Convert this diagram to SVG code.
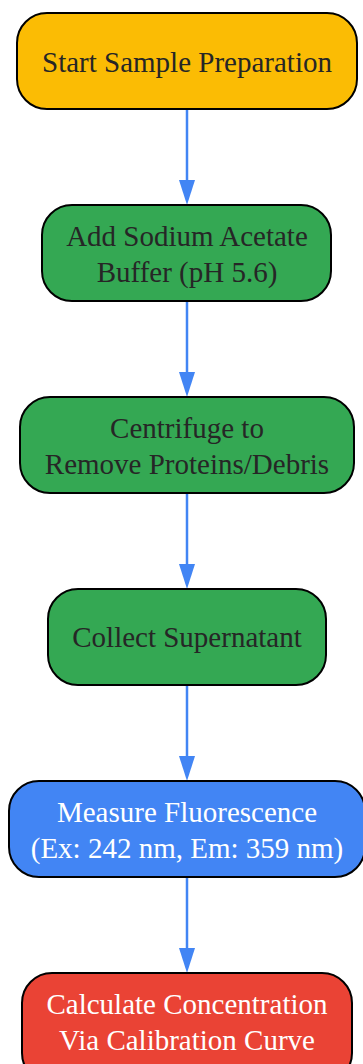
<svg xmlns="http://www.w3.org/2000/svg" width="363" height="1064" viewBox="0 0 363 1064">
<defs>
<style>
.n{stroke:#000;stroke-width:2}
.t{font-family:"Liberation Serif",serif;font-size:29px;text-anchor:middle;fill:#262626}
.w{fill:#fff}
.c{stroke:#4285F4;stroke-width:2.5;fill:none}
.a{fill:#4285F4}
</style>
</defs>
<g id="connectors">
<line class="c" x1="187" y1="109" x2="187" y2="182"/><path class="a" d="M179,180 L195,180 L187,205 Z"/>
<line class="c" x1="187" y1="301" x2="187" y2="374"/><path class="a" d="M179,372 L195,372 L187,397 Z"/>
<line class="c" x1="187" y1="493" x2="187" y2="566"/><path class="a" d="M179,564 L195,564 L187,589 Z"/>
<line class="c" x1="187" y1="685" x2="187" y2="758"/><path class="a" d="M179,756 L195,756 L187,781 Z"/>
<line class="c" x1="187" y1="877" x2="187" y2="950"/><path class="a" d="M179,948 L195,948 L187,973 Z"/>
</g>
<g id="n1"><rect class="n" x="17" y="13" width="340" height="96" rx="30" fill="#FBBC04"/><text class="t" x="187" y="72">Start Sample Preparation</text></g>
<g id="n2"><rect class="n" x="42" y="205" width="289" height="96" rx="30" fill="#34A853"/><text class="t" x="187" y="246">Add Sodium Acetate</text><text class="t" x="187" y="282">Buffer (pH 5.6)</text></g>
<g id="n3"><rect class="n" x="20" y="397" width="334" height="96" rx="30" fill="#34A853"/><text class="t" x="187" y="438">Centrifuge to</text><text class="t" x="187" y="474">Remove Proteins/Debris</text></g>
<g id="n4"><rect class="n" x="48" y="589" width="278" height="96" rx="30" fill="#34A853"/><text class="t" x="187" y="647">Collect Supernatant</text></g>
<g id="n5"><rect class="n" x="9" y="781" width="356" height="96" rx="30" fill="#4285F4"/><text class="t w" x="187" y="822">Measure Fluorescence</text><text class="t w" x="187" y="858">(Ex: 242 nm, Em: 359 nm)</text></g>
<g id="n6"><rect class="n" x="22" y="973" width="330" height="110" rx="30" fill="#EA4335"/><text class="t w" x="187" y="1014">Calculate Concentration</text><text class="t w" x="187" y="1050">Via Calibration Curve</text></g>
</svg>
